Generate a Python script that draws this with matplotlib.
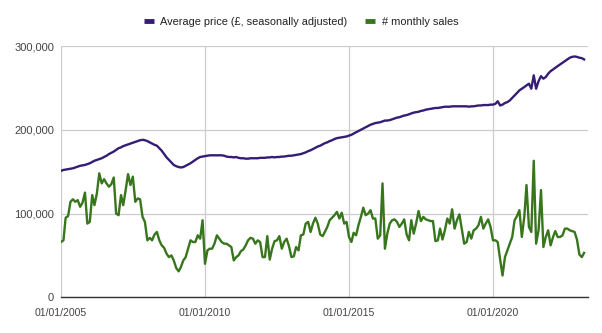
import matplotlib
matplotlib.use("Agg")
import matplotlib.pyplot as plt
from matplotlib.lines import Line2D
import pandas as pd

plt.rcParams['font.family'] = ['Liberation Sans', 'DejaVu Sans']

# Monthly series, Jan 2005 - Mar 2023
start_month = "2005-01-01"

avg_price_k = [
    151, 152, 152.5, 153, 153.5, 154, 155, 156, 157, 157.5, 158, 159,
    160, 161.5, 163, 164, 165, 166, 167.5, 169, 171, 172.5, 174, 176,
    178, 179, 180.5, 181.5, 182.5, 183.5, 184.5, 185.5, 186.5, 187.5, 188, 187.5,
    186.5, 185, 183.5, 182, 181, 178, 175, 171, 167, 164, 161, 158,
    156.5, 155.5, 155, 155.5, 157, 158.5, 160, 162, 164, 166, 167.5, 168,
    168.5, 169, 169.5, 169.5, 169.5, 169.5, 169.5, 169.5, 169, 168, 167.5, 167.5,
    167, 167.5, 166.5, 166, 166, 165.5, 165.5, 166, 166, 166, 166, 166.5,
    166.5, 166.5, 167, 167, 167.5, 167, 167.5, 167.5, 168, 168, 168.5, 169,
    169, 169.5, 170, 170.5, 171, 172, 173, 174.5, 175.5, 177, 178.5, 180,
    181, 182.5, 184, 185, 186.5, 187.5, 189, 190, 190.5, 191, 191.5, 192,
    193, 194, 195.5, 197, 198.5, 200, 201.5, 203, 204.5, 206, 207, 208,
    208.5, 209, 210, 211, 211, 211.5, 212.5, 213.5, 214.5, 215, 216, 217,
    217.5, 218.5, 219.5, 220.5, 221, 221.5, 222.5, 223, 224, 224.5, 225, 225.5,
    226, 226, 226.5, 227, 227.5, 227.5, 227.5, 228, 228, 228, 228, 228,
    228, 228, 227.5, 228, 228, 228.5, 229, 229, 229.5, 229.5, 229.5, 230,
    230, 231, 234, 229, 230, 232, 233, 235, 238, 241, 244, 247,
    249, 251, 253, 255, 249, 265, 249, 258, 264, 261, 263, 267,
    270, 272, 274, 276, 278, 280, 282, 284, 286, 287, 287.5, 287,
    286, 285.5, 284,
]

monthly_sales_k = [
    66, 68, 95, 97, 114, 117, 114, 116, 108, 113, 125, 88,
    90, 122, 110, 124, 148, 136, 141, 136, 132, 135, 143, 100,
    98, 122, 110, 128, 147, 134, 144, 114, 118, 117, 96, 90,
    68, 71, 68, 75, 78, 68, 62, 59, 52, 48, 50, 44,
    35, 31, 36, 44, 48, 58, 68, 66, 66, 74, 70, 92,
    40, 56, 58, 58, 64, 74, 70, 66, 64, 64, 62, 60,
    44, 48, 50, 55, 57, 62, 68, 71, 70, 64, 68, 66,
    48, 48, 73, 45, 58, 67, 68, 73, 58, 66, 70, 61,
    48, 49, 60, 56, 74, 75, 88, 90, 78, 88, 95, 88,
    75, 73, 78, 84, 92, 95, 98, 102, 94, 101, 88, 90,
    72, 66, 77, 74, 86, 96, 107, 98, 100, 104, 94, 94,
    70, 74, 136, 58, 76, 88, 92, 93, 90, 84, 88, 93,
    75, 68, 92, 76, 88, 103, 91, 96, 93, 92, 91, 91,
    67, 68, 82, 69, 80, 94, 88, 105, 82, 92, 99, 82,
    64, 66, 78, 70, 80, 82, 86, 96, 82, 88, 93, 84,
    68, 68, 66, 45, 26, 48, 56, 64, 72, 92, 97, 104,
    72, 96, 134, 84, 78, 163, 64, 80, 128, 60, 72, 80,
    62, 72, 79, 72, 72, 74, 82, 82, 80, 79, 78, 69,
    51, 48, 53,
]

series_labels = ["Average price (£, seasonally adjusted)", "# monthly sales"]
series_colors = ["#351c75", "#38761d"]
y_ticks = [0, 100000, 200000, 300000]
x_tick_years = [2005, 2010, 2015, 2020]

dates = pd.date_range(start_month, periods=len(avg_price_k), freq="MS")
price = [v * 1000 for v in avg_price_k]
sales = [v * 1000 for v in monthly_sales_k]

W, H = 602, 333
fig = plt.figure(figsize=(W / 100, H / 100), dpi=100)
left, right, top, bottom = 61, 588, 46, 297.3
ax = fig.add_axes([left / W, 1 - bottom / H, (right - left) / W, (bottom - top) / H])

ax.plot(dates, price, color=series_colors[0], lw=1.7, solid_joinstyle="round", zorder=3)
ax.plot(dates, sales, color=series_colors[1], lw=1.7, solid_joinstyle="round", zorder=3)

ax.set_ylim(0, 300000)
ax.set_xlim(pd.Timestamp("2005-01-01"), pd.Timestamp("2023-04-20"))

ax.set_yticks(y_ticks)
ax.set_yticklabels([f"{v:,}" for v in y_ticks])
xt = [pd.Timestamp(f"{y}-01-01") for y in x_tick_years]
ax.set_xticks(xt)
ax.set_xticklabels([d.strftime("%d/%m/%Y") for d in xt])

ax.grid(True, color="#cccccc", lw=0.9)
ax.set_axisbelow(True)
for s in ["top", "right", "left"]:
    ax.spines[s].set_visible(False)
ax.spines["bottom"].set_color("#333333")
ax.spines["bottom"].set_linewidth(1.0)
ax.spines["bottom"].set_zorder(4)
ax.tick_params(axis="both", length=0, colors="#444444")
ax.tick_params(axis="y", pad=5, labelsize=8.0)
ax.tick_params(axis="x", pad=8, labelsize=7.6)

handles = [Line2D([0], [0], color=c, lw=3.5, solid_capstyle="butt") for c in series_colors]
fig.legend(handles, series_labels, loc="center", bbox_to_anchor=(0.5, 1 - 22 / H),
           ncol=2, frameon=False, fontsize=7.9, handlelength=0.9, handletextpad=0.6,
           columnspacing=1.6, labelcolor="#222222")

fig.savefig("out.png", dpi=100, facecolor="white")
